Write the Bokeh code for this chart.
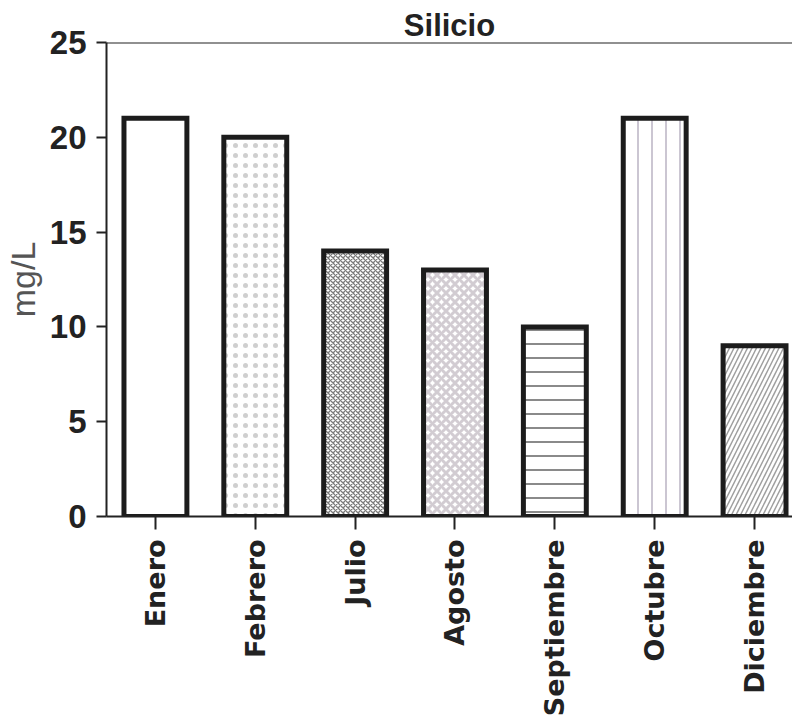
import math
from bokeh.plotting import figure
from bokeh.models import ColumnDataSource, FixedTicker, SingleIntervalTicker, Span
from bokeh.embed import file_html
from bokeh.resources import INLINE

# ---- data ----
months = ["Enero", "Febrero", "Julio", "Agosto", "Septiembre", "Octubre", "Diciembre"]
silicio = [21, 20, 14, 13, 10, 21, 9]

# ---- styles (one per bar) ----
patterns = [" ", ".", "x", "x", "-", "|", "/"]
hatch_colors = ["#ffffff", "#cfcfcf", "#7a7a7a", "#d2ccd2", "#8a8a8a", "#a8a0b4", "#a0a0a0"]
hatch_scales = [12, 10, 5, 9, 14, 14, 9]
hatch_weights = [1, 0.9, 1.3, 3, 2, 1.2, 1.5]

src = ColumnDataSource(dict(
    x=list(range(len(months))),
    top=silicio,
    pat=patterns,
    hc=hatch_colors,
    hs=hatch_scales,
    hw=hatch_weights,
))

p = figure(width=792, height=720, output_backend="svg", toolbar_location=None,
           x_range=(-0.49, 6.38), y_range=(0, 25),
           min_border_left=105, min_border_right=0, min_border_top=42, min_border_bottom=204)

p.vbar(x="x", top="top", bottom=0, width=0.63, source=src,
       fill_color="white", line_color="#1c1c1c", line_width=5, line_join="miter",
       hatch_pattern="pat", hatch_color="hc", hatch_scale="hs", hatch_weight="hw")

p.title.text = "Silicio"
p.title.align = "center"
p.title.text_font = "Liberation Sans"
p.title.text_font_size = "31px"
p.title.text_font_style = "bold"
p.title.text_color = "#222222"
p.title.standoff = 0
p.title.offset = 0

p.outline_line_color = None
p.xgrid.visible = False
p.ygrid.visible = False
p.background_fill_color = "white"
p.border_fill_color = "white"

top_line = Span(location=25, dimension="width", line_color="#222222", line_width=2)
p.add_layout(top_line)

# y axis
ya = p.yaxis[0]
ya.ticker = SingleIntervalTicker(interval=5, num_minor_ticks=0)
ya.axis_label = "mg/L"
ya.axis_label_text_font = "Liberation Sans"
ya.axis_label_text_font_size = "34px"
ya.axis_label_text_font_style = "normal"
ya.axis_label_text_color = "#555555"
ya.axis_label_standoff = 5
ya.major_label_text_font = "Liberation Sans"
ya.major_label_text_font_size = "33px"
ya.major_label_text_font_style = "bold"
ya.major_label_text_color = "#222222"
ya.major_label_standoff = 10
ya.major_tick_out = 10
ya.major_tick_in = 0
ya.minor_tick_out = 0
ya.minor_tick_in = 0
ya.axis_line_width = 2
ya.major_tick_line_width = 2
ya.axis_line_color = "#222222"
ya.major_tick_line_color = "#222222"

# x axis
xa = p.xaxis[0]
xa.ticker = FixedTicker(ticks=list(range(len(months))))
xa.major_label_overrides = {i: m for i, m in enumerate(months)}
xa.major_label_orientation = math.pi / 2
xa.major_label_text_font = "DejaVu Sans"
xa.major_label_text_font_size = "27px"
xa.major_label_text_font_style = "bold"
xa.major_label_text_color = "#222222"
xa.major_label_standoff = 10
xa.major_tick_out = 13
xa.major_tick_in = 0
xa.minor_tick_out = 0
xa.minor_tick_in = 0
xa.axis_line_width = 2
xa.major_tick_line_width = 2
xa.axis_line_color = "#222222"
xa.major_tick_line_color = "#222222"

open("out.html", "w").write(file_html(p, INLINE))
